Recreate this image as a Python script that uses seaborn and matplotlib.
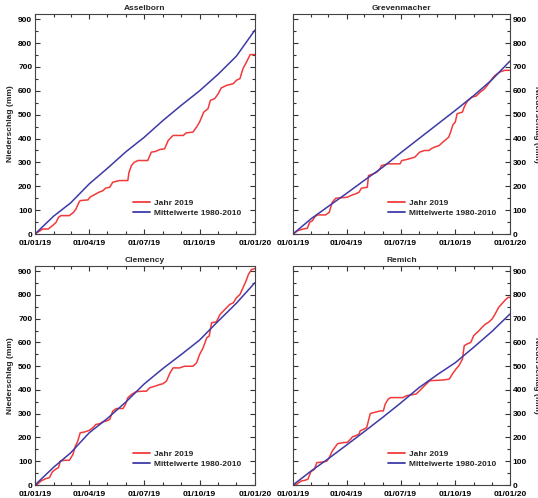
import numpy as np
import pandas as pd
import matplotlib
matplotlib.use("Agg")
import matplotlib.pyplot as plt
import matplotlib.dates as mdates
from matplotlib.ticker import MultipleLocator
import seaborn as sns

# ---------------- data (day of year, cumulative precipitation mm) -------------
stations = ["Asselborn", "Grevenmacher", "Clemency", "Remich"]
series_labels = ["Jahr 2019", "Mittelwerte 1980-2010"]
xtick_labels = ["01/01/19", "01/04/19", "01/07/19", "01/10/19", "01/01/20"]

mean_days = [0, 31, 59, 90, 120, 151, 181, 212, 243, 273, 304, 334, 365]
asselborn_mean = [0, 75, 130, 210, 275, 345, 405, 475, 540, 600, 670, 745, 855]
grevenmacher_mean = [0, 65, 115, 170, 225, 280, 340, 400, 460, 518, 580, 645, 725]
clemency_mean = [0, 75, 135, 220, 280, 350, 425, 490, 550, 610, 690, 765, 852]
remich_mean = [0, 60, 110, 168, 225, 285, 345, 410, 465, 515, 580, 645, 720]

asselborn_days = [0, 13, 22, 29, 35, 39, 43, 57, 64, 68, 73, 75, 88, 91, 101, 106, 113, 117,
                  124, 129, 140, 154, 156, 160, 165, 171, 187, 193, 200, 207, 215, 221, 229,
                  246, 251, 262, 268, 273, 280, 287, 291, 298, 304, 309, 318, 329, 334, 340,
                  345, 351, 357, 365]
asselborn_2019 = [0, 21, 21, 35, 49, 70, 77, 77, 91, 105, 133, 140, 143, 154, 168, 175, 182, 192,
                  196, 217, 224, 224, 259, 287, 301, 308, 308, 343, 346, 354, 357, 392, 413,
                  413, 424, 427, 448, 469, 511, 525, 560, 567, 588, 612, 623, 630, 644, 651,
                  693, 721, 752, 752]

grevenmacher_days = [0, 8, 17, 24, 28, 33, 36, 41, 55, 61, 66, 72, 77, 91, 100, 105, 111, 115,
                     125, 127, 135, 141, 146, 149, 160, 180, 183, 191, 205, 213, 221, 229, 232,
                     238, 246, 252, 262, 266, 269, 273, 276, 285, 288, 293, 301, 308, 315, 321,
                     326, 335, 340, 348, 356, 365]
grevenmacher_2019 = [0, 14, 21, 24, 49, 56, 70, 80, 80, 91, 133, 150, 151, 154, 164, 168, 175, 192,
                     196, 245, 252, 259, 273, 287, 294, 294, 308, 312, 322, 343, 350, 350, 357,
                     364, 371, 385, 406, 434, 458, 469, 504, 511, 532, 556, 574, 578, 595, 606,
                     620, 651, 665, 679, 686, 686]

clemency_days = [0, 4, 10, 18, 24, 29, 34, 39, 42, 49, 57, 63, 67, 71, 75, 82, 90, 96, 101, 107,
                 113, 118, 124, 129, 135, 146, 150, 154, 160, 168, 179, 185, 190, 199, 207, 212,
                 218, 224, 229, 240, 248, 262, 268, 273, 279, 285, 289, 293, 301, 307, 315, 323,
                 329, 334, 340, 345, 350, 354, 359, 365]
clemency_2019 = [0, 3, 17, 27, 31, 56, 66, 73, 101, 104, 104, 129, 164, 185, 220, 223, 230, 241,
                 255, 258, 266, 269, 276, 311, 322, 322, 339, 367, 381, 393, 395, 395, 409, 416,
                 423, 426, 437, 472, 493, 493, 500, 500, 514, 549, 578, 620, 627, 683, 687, 718,
                 739, 760, 767, 788, 802, 830, 858, 886, 907, 911]

remich_days = [0, 6, 14, 20, 25, 30, 36, 40, 53, 57, 61, 66, 75, 86, 91, 97, 100, 105, 111, 113,
               119, 124, 130, 136, 147, 152, 155, 160, 164, 185, 191, 207, 213, 224, 230, 252,
               263, 268, 274, 279, 285, 288, 293, 299, 304, 313, 318, 324, 329, 335, 340, 346,
               351, 357, 362, 365]
remich_2019 = [0, 3, 17, 20, 24, 56, 66, 94, 98, 101, 115, 143, 174, 179, 179, 193, 203, 207,
               214, 228, 235, 242, 301, 305, 312, 312, 340, 361, 368, 368, 376, 383, 397, 425,
               439, 442, 446, 467, 488, 502, 530, 586, 594, 600, 629, 650, 664, 678, 685, 699,
               720, 748, 762, 779, 790, 790]

year_data = {"Asselborn": (asselborn_days, asselborn_2019),
             "Grevenmacher": (grevenmacher_days, grevenmacher_2019),
             "Clemency": (clemency_days, clemency_2019),
             "Remich": (remich_days, remich_2019)}
mean_data = {"Asselborn": asselborn_mean, "Grevenmacher": grevenmacher_mean,
             "Clemency": clemency_mean, "Remich": remich_mean}

# ---------------- style --------------------------------------------------------
sns.set_style("ticks")
plt.rcParams["font.family"] = ["Liberation Sans", "DejaVu Sans"]
plt.rcParams["font.weight"] = "bold"

RED = "#f23a3a"
BLUE = "#3d3aa6"
start = pd.Timestamp("2019-01-01")

def to_dates(days):
    return start + pd.to_timedelta(np.asarray(days), unit="D")

fig = plt.figure(figsize=(5.38, 4.98), dpi=100)
W, H = 538, 498
boxes = {"Asselborn": (35, 14, 220, 220),
         "Grevenmacher": (293, 14, 217, 220),
         "Clemency": (35, 266, 220, 219),
         "Remich": (293, 266, 217, 219)}

for i, st in enumerate(stations):
    x0, y0, w, h = boxes[st]
    ax = fig.add_axes([x0 / W, 1 - (y0 + h) / H, w / W, h / H])
    d_days, d_vals = year_data[st]
    df_year = pd.DataFrame({"date": to_dates(d_days), "mm": d_vals})
    df_mean = pd.DataFrame({"date": to_dates(mean_days), "mm": mean_data[st]})
    sns.lineplot(data=df_year, x="date", y="mm", ax=ax, color=RED, lw=1.1,
                 label=series_labels[0])
    sns.lineplot(data=df_mean, x="date", y="mm", ax=ax, color=BLUE, lw=1.1,
                 label=series_labels[1])
    ax.set_xlim(start, pd.Timestamp("2020-01-01"))
    ax.set_ylim(0, 922)
    ax.yaxis.set_major_locator(MultipleLocator(100))
    ax.yaxis.set_minor_locator(MultipleLocator(50))
    ax.xaxis.set_major_locator(mdates.MonthLocator(bymonth=[1, 4, 7, 10]))
    ax.xaxis.set_minor_locator(mdates.MonthLocator())
    ax.xaxis.set_major_formatter(mdates.DateFormatter("%d/%m/%y"))
    ax.tick_params(which="both", direction="in", top=True, bottom=True, left=True,
                   right=True, width=0.8, colors="#333333", labelcolor="black",
                   labelsize=6, pad=2)
    ax.tick_params(axis="x", which="major", pad=4)
    ax.tick_params(which="major", length=3.5)
    ax.tick_params(which="minor", length=2)
    for sp in ax.spines.values():
        sp.set_linewidth(0.8)
        sp.set_color("#444444")
    ax.set_xlabel("")
    ax.set_title(st, fontsize=6, fontweight="bold", pad=3)
    if i % 2 == 1:
        ax.tick_params(which="both", labelleft=False, labelright=True)
        ax.yaxis.set_label_position("right")
        ax.set_ylabel("Niederschlag (mm)", fontsize=6, fontweight="bold",
                      rotation=270, labelpad=9)
    else:
        ax.set_ylabel("Niederschlag (mm)", fontsize=6, fontweight="bold", labelpad=3)
    leg = ax.legend(loc="lower right", bbox_to_anchor=(0.955, 0.06), frameon=False,
                    fontsize=6, handlelength=2.0, handletextpad=0.5,
                    labelspacing=0.25, borderpad=0)
    for line in leg.get_lines():
        line.set_linewidth(1.3)
    for t in leg.get_texts():
        t.set_fontweight("bold")

fig.savefig("out.png", dpi=100)
